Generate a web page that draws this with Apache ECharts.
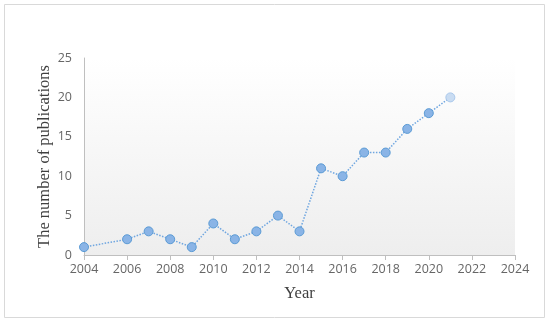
<!DOCTYPE html>
<html><head><meta charset="utf-8">
<script src="https://cdn.jsdelivr.net/npm/echarts@6/dist/echarts.min.js"></script>
<style>html,body{margin:0;padding:0;background:#fff}#c{width:550px;height:322px}</style>
</head><body><div id="c"></div>
<script>
const years = [2004, 2006, 2007, 2008, 2009, 2010, 2011, 2012, 2013, 2014, 2015, 2016, 2017, 2018, 2019, 2020, 2021];
const publications = [1, 2, 3, 2, 1, 4, 2, 3, 5, 3, 11, 10, 13, 13, 16, 18, 20];
const xTicks = [2004, 2024, 2];
const yTicks = [0, 25, 5];

const chart = echarts.init(document.getElementById('c'));
const pts = years.map((y, i) => {
  const p = { value: [y, publications[i]] };
  if (i === years.length - 1) p.itemStyle = { color: '#c9dcf2', borderColor: '#a9c8ec' };
  return p;
});
chart.setOption({
  animation: false,
  graphic: [{ type: 'rect', shape: { x: 4.5, y: 4.5, width: 540, height: 313 }, style: { fill: 'none', stroke: '#d9d9d9', lineWidth: 1 } }],
  grid: { left: 84, right: 35, top: 58, bottom: 67, show: true, borderWidth: 0,
    backgroundColor: new echarts.graphic.LinearGradient(0, 0, 0, 1, [{ offset: 0, color: '#ffffff' }, { offset: 1, color: '#eeeeee' }]) },
  xAxis: { type: 'value', min: xTicks[0], max: xTicks[1], interval: xTicks[2],
    name: 'Year', nameLocation: 'middle', nameGap: 30, nameMoveOverlap: false,
    nameTextStyle: { fontFamily: 'Liberation Serif', fontSize: 16.5, color: '#404040' },
    axisLine: { lineStyle: { color: '#bfbfbf', width: 1 } },
    axisTick: { show: true, length: 5, inside: false, lineStyle: { color: '#bfbfbf' } },
    splitLine: { show: false },
    axisLabel: { color: '#666666', fontSize: 12.5, fontFamily: 'Open Sans', margin: 8, formatter: v => String(v) } },
  yAxis: { type: 'value', min: yTicks[0], max: yTicks[1], interval: yTicks[2],
    name: 'The number of publications', nameLocation: 'middle', nameGap: 31, nameMoveOverlap: false,
    nameTextStyle: { fontFamily: 'Liberation Serif', fontSize: 16.5, color: '#404040' },
    axisLine: { show: true, lineStyle: { color: '#bfbfbf', width: 1 } },
    axisTick: { show: false },
    splitLine: { show: false },
    axisLabel: { color: '#666666', fontSize: 12.5, fontFamily: 'Open Sans', margin: 12 } },
  series: [{ type: 'line', data: pts, symbol: 'circle', symbolSize: 9,
    lineStyle: { color: '#6fa6e0', width: 1.5, type: 'dotted' },
    itemStyle: { color: '#8ab4e6', borderColor: '#5b9bd5', borderWidth: 1 } }]
});
</script></body></html>
